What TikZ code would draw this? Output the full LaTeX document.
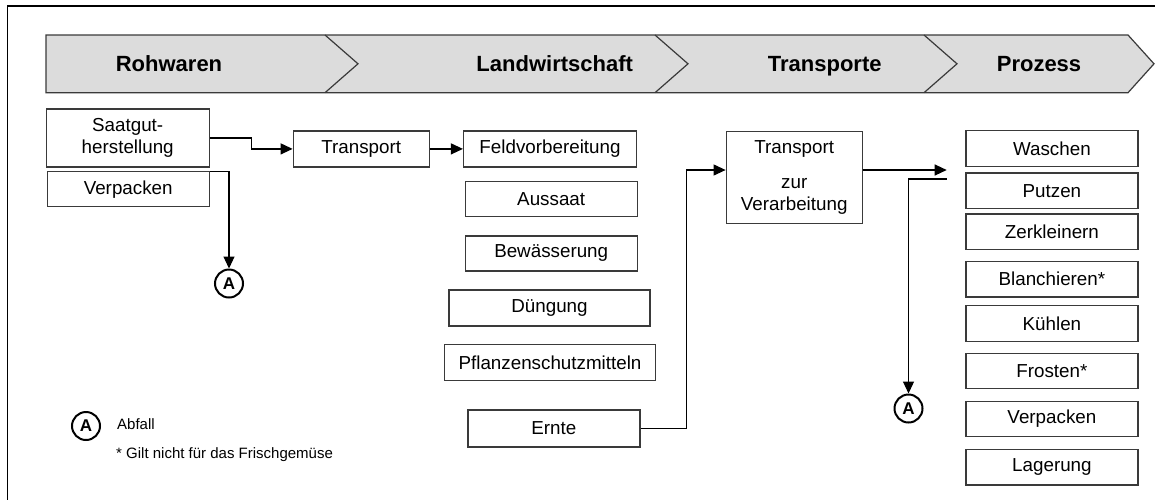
\documentclass[tikz,border=0pt]{standalone}
\usepackage{fontspec}
\setmainfont{Liberation Sans}
\usetikzlibrary{arrows.meta,calc}
\definecolor{bannergray}{HTML}{DCDCDC}
\definecolor{edgegray}{HTML}{3A3A3A}
\tikzset{
  procbox/.style={draw=edgegray, line width=1.2pt, inner sep=0pt, align=center,
    font=\fontsize{18.8}{22}\selectfont},
  phase/.style={anchor=base, font=\fontsize{22}{24}\selectfont\bfseries},
  waste/.style={circle, draw=black, line width=2pt, inner sep=0pt, minimum size=28pt,
    font=\fontsize{17}{17}\selectfont\bfseries},
  flow/.style={line width=1.2pt, -{Triangle[length=12pt,width=11pt]}},
  legtext/.style={anchor=west, inner sep=0pt, font=\fontsize{15}{17}\selectfont},
}

\begin{document}
\begin{tikzpicture}[x=1pt,y=-1pt]
			%%%%% START %%%%%
			\useasboundingbox (0,0) rectangle (1155,499);
			\clip (0,0) rectangle (1155,499);
			
			\draw[line width=1.3pt] (7.3,520) -- (7.3,6) -- (1170,6);
			
			% phase banner
			\draw[fill=bannergray, draw=edgegray, line width=1.2pt] (46,35) -- (1128,35) -- (1154,63.8) -- (1128,92.7) -- (46,92.7) -- cycle;
			\foreach \x in {325,655,924}
				\draw[edgegray, line width=1.2pt] (\x,35) -- (\x+33,63.8) -- (\x,92.7);
			
			\node[phase] (rohwaren) at (169,71.8) {Rohwaren};
			\node[phase] (landwirt) at (554.7,71.8) {Landwirtschaft};
			\node[phase] (transporte) at (824.7,71.8) {Transporte};
			\node[phase] (prozess) at (1039,71.8) {Prozess};
			
			% Rohwaren
			\node[procbox, minimum width=163pt, minimum height=58pt] (saat) at (127.7,137.9) {Saatgut-\\herstellung};
			\node[procbox, minimum width=162pt, minimum height=35pt] (verp1) at (128.2,189.2) {Verpacken};
			\node[procbox, minimum width=136pt, minimum height=36pt] (trans) at (361.2,148.9) {Transport};
			
			% Landwirtschaft
			\node[procbox, minimum width=173pt, minimum height=36pt] (feld) at (550,148.9) {Feldvorbereitung};
			\node[procbox, minimum width=172pt, minimum height=35pt] (aussaat) at (551.2,199.2) {Aussaat};
			\node[procbox, minimum width=172pt, minimum height=35pt] (bewaess) at (551.2,253.4) {Bewässerung};
			\node[procbox, minimum width=201pt, minimum height=36pt] (duengung) at (549.5,307.9) {Düngung};
			\node[procbox, minimum width=211pt, minimum height=36pt] (pflanz) at (550,362.5) {Pflanzenschutzmitteln};
			\node[procbox, minimum width=172pt, minimum height=37pt] (ernte) at (553.9,428.4) {Ernte};
			
			% Transporte
			\node[procbox, minimum width=136pt, minimum height=92pt] (tzv) at (794.2,177.2) {Transport\\[13pt]zur\\Verarbeitung};
			
			% Prozess
			\foreach \name/\txt/\y in {wasch/Waschen/148.4, putz/Putzen/190.8, zerkl/Zerkleinern/231.8,
				blanch/Blanchieren*/279.2, kuehl/Kühlen/323.5, frost/Frosten*/371,
				verp2/Verpacken/418.9, lager/Lagerung/467.2}
				\node[procbox, minimum width=172pt, minimum height=35.5pt] (\name) at (1051.9,\y) {\txt};
			
			\coordinate (procin) at (946.7,170);
			\coordinate (procout) at (946.7,179);
			
			% waste
			\node[waste] (waste1) at (229,283.5) {A};
			\node[waste] (waste2) at (908.5,408.5) {A};
			
			% connectors
			\draw[flow] (saat.east) -- ++(42,0) |- (trans.west);
			\draw[flow] (trans) -- (feld);
			\draw[flow] (verp1.north east) -| (waste1.north);
			\draw[flow] (ernte.east) -- ++(46,0) |- ($(tzv.west)+(0,-7.2)$);
			\draw[flow] ($(tzv.east)+(0,-7.2)$) -- (procin);
			\draw[flow] (procout) -| (waste2.north);
			
			% legend
			\node[waste] (legwaste) at (86,426) {A};
			\node[legtext] (legabfall) at (117,424) {Abfall};
			\node[legtext] (legnote) at (116,455) {* Gilt nicht für das Frischgemüse};
			%%%%% END %%%%%
\end{tikzpicture}
\end{document}
